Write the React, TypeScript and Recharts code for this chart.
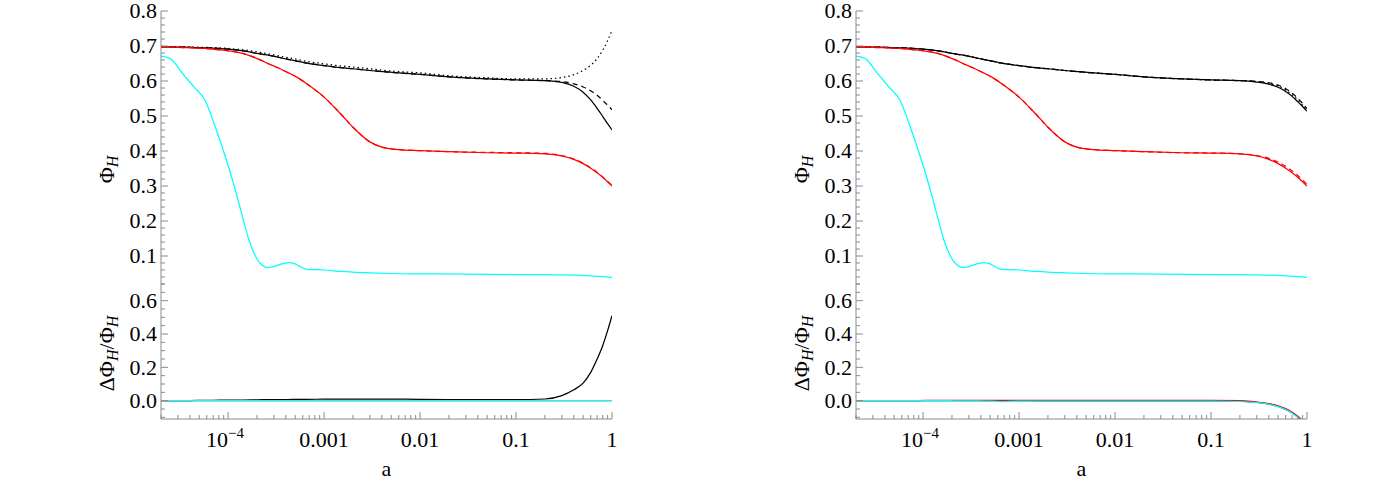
import React from 'react';
import { LineChart, Line, XAxis, YAxis } from 'recharts';

// ---------------- data ----------------
const aGrid = [2e-5, 2.5e-5, 3e-5, 4e-5, 5.75e-5, 7e-5, 9e-5, 1.2e-4, 1.45e-4, 1.9e-4, 2.3e-4, 2.6e-4, 3.3e-4, 4.2e-4, 5.2e-4, 6.6e-4, 1e-3, 1.5e-3, 2e-3, 3e-3, 4e-3, 6e-3, 0.01, 0.02, 0.05, 0.1, 0.2, 0.3, 0.4, 0.5, 0.6, 0.7, 0.8, 0.9, 1];

// left panel, top
const leftBlackSolid = [0.698, 0.697, 0.697, 0.696, 0.695, 0.694, 0.692, 0.689, 0.686, 0.680, 0.676, 0.674, 0.668, 0.662, 0.657, 0.651, 0.644, 0.638, 0.635, 0.630, 0.627, 0.623, 0.619, 0.612, 0.606, 0.603, 0.601, 0.596, 0.585, 0.568, 0.546, 0.522, 0.499, 0.478, 0.460];
const leftBlackDashed = [0.698, 0.697, 0.697, 0.696, 0.695, 0.694, 0.692, 0.689, 0.686, 0.680, 0.676, 0.674, 0.668, 0.662, 0.657, 0.651, 0.644, 0.638, 0.635, 0.630, 0.627, 0.623, 0.619, 0.612, 0.606, 0.603, 0.601, 0.598, 0.592, 0.583, 0.572, 0.559, 0.545, 0.531, 0.518];
const leftBlackDotted = [0.699, 0.698, 0.698, 0.697, 0.696, 0.695, 0.694, 0.691, 0.689, 0.684, 0.680, 0.678, 0.672, 0.667, 0.662, 0.656, 0.649, 0.643, 0.640, 0.635, 0.631, 0.627, 0.623, 0.615, 0.609, 0.606, 0.606, 0.610, 0.618, 0.630, 0.645, 0.664, 0.688, 0.715, 0.745];
const leftRedSolid = [0.697, 0.697, 0.696, 0.695, 0.693, 0.691, 0.688, 0.683, 0.678, 0.667, 0.657, 0.650, 0.638, 0.624, 0.611, 0.592, 0.554, 0.505, 0.468, 0.426, 0.411, 0.404, 0.401, 0.398, 0.395, 0.394, 0.392, 0.386, 0.376, 0.364, 0.351, 0.338, 0.325, 0.312, 0.300];
const leftRedDashed = [0.697, 0.697, 0.696, 0.695, 0.693, 0.691, 0.688, 0.683, 0.678, 0.667, 0.657, 0.650, 0.638, 0.624, 0.611, 0.592, 0.554, 0.505, 0.468, 0.426, 0.411, 0.404, 0.401, 0.398, 0.396, 0.395, 0.393, 0.387, 0.377, 0.365, 0.352, 0.339, 0.326, 0.313, 0.302];

// cyan curve (same in both panels) on its own finer grid
const cyanGrid = [2e-5, 2.5e-5, 3.3e-5, 4.4e-5, 5.75e-5, 7e-5, 8e-5, 9e-5, 1.05e-4, 1.2e-4, 1.45e-4, 1.65e-4, 1.9e-4, 2.1e-4, 2.35e-4, 2.6e-4, 2.9e-4, 3.3e-4, 3.8e-4, 4.3e-4, 4.9e-4, 5.5e-4, 6.2e-4, 7e-4, 8e-4, 1e-3, 1.5e-3, 2e-3, 3e-3, 5e-3, 0.01, 0.03, 0.1, 0.3, 0.6, 1];
const leftCyan = [0.671, 0.664, 0.624, 0.583, 0.545, 0.485, 0.440, 0.398, 0.340, 0.285, 0.200, 0.145, 0.103, 0.083, 0.071, 0.067, 0.069, 0.074, 0.079, 0.081, 0.078, 0.071, 0.064, 0.061, 0.061, 0.060, 0.056, 0.054, 0.052, 0.050, 0.049, 0.048, 0.047, 0.046, 0.043, 0.039];
const rightCyan = [0.671, 0.664, 0.624, 0.583, 0.545, 0.485, 0.440, 0.398, 0.340, 0.285, 0.200, 0.145, 0.103, 0.083, 0.071, 0.067, 0.069, 0.074, 0.079, 0.081, 0.078, 0.071, 0.064, 0.061, 0.061, 0.060, 0.056, 0.054, 0.052, 0.050, 0.049, 0.048, 0.047, 0.046, 0.043, 0.039];

// left panel, bottom (relative difference)
const leftDeltaBlack = [0, 0, 0.001, 0.001, 0.002, 0.002, 0.003, 0.004, 0.004, 0.005, 0.006, 0.006, 0.007, 0.007, 0.008, 0.008, 0.009, 0.009, 0.009, 0.009, 0.009, 0.009, 0.008, 0.007, 0.006, 0.006, 0.010, 0.030, 0.065, 0.105, 0.170, 0.250, 0.330, 0.420, 0.510];
const leftDeltaRed = [0, 0, 0, 0.001, 0.001, 0.001, 0.001, 0.001, 0.001, 0.001, 0.001, 0.001, 0.001, 0.001, 0.001, 0.001, 0.001, 0.001, 0.001, 0.001, 0.001, 0.001, 0.001, 0.001, 0.001, 0.001, 0.001, 0.001, 0.001, 0.001, 0.001, 0.001, 0.001, 0.001, 0.001];
const leftDeltaCyan = [0, 0, 0, 0, 0, 0, 0, 0, 0, 0, 0, 0, 0, 0, 0, 0, 0, 0, 0, 0, 0, 0, 0, 0, 0, 0, 0, 0, 0, 0, 0, 0, 0, 0, 0];

// right panel, top
const rightBlackSolid = [0.698, 0.697, 0.697, 0.696, 0.695, 0.694, 0.692, 0.689, 0.686, 0.680, 0.676, 0.674, 0.668, 0.662, 0.657, 0.651, 0.644, 0.638, 0.635, 0.630, 0.627, 0.623, 0.619, 0.612, 0.606, 0.603, 0.601, 0.597, 0.591, 0.582, 0.570, 0.556, 0.541, 0.527, 0.514];
const rightBlackDashed = [0.698, 0.697, 0.697, 0.696, 0.695, 0.694, 0.692, 0.689, 0.686, 0.680, 0.676, 0.674, 0.668, 0.662, 0.657, 0.651, 0.644, 0.638, 0.635, 0.630, 0.627, 0.623, 0.619, 0.612, 0.606, 0.603, 0.601, 0.599, 0.595, 0.588, 0.578, 0.565, 0.551, 0.536, 0.521];
const rightBlackDotted = [0.698, 0.697, 0.697, 0.696, 0.695, 0.694, 0.692, 0.689, 0.686, 0.680, 0.676, 0.674, 0.668, 0.662, 0.657, 0.651, 0.644, 0.638, 0.635, 0.630, 0.627, 0.623, 0.619, 0.612, 0.606, 0.603, 0.601, 0.598, 0.593, 0.585, 0.574, 0.561, 0.546, 0.531, 0.517];
const rightRedSolid = [0.697, 0.697, 0.696, 0.695, 0.693, 0.691, 0.688, 0.683, 0.678, 0.667, 0.657, 0.650, 0.638, 0.624, 0.611, 0.592, 0.554, 0.505, 0.468, 0.426, 0.411, 0.404, 0.401, 0.398, 0.395, 0.394, 0.392, 0.386, 0.376, 0.364, 0.351, 0.338, 0.325, 0.312, 0.300];
const rightRedDashed = [0.697, 0.697, 0.696, 0.695, 0.693, 0.691, 0.688, 0.683, 0.678, 0.667, 0.657, 0.650, 0.638, 0.624, 0.611, 0.592, 0.554, 0.505, 0.468, 0.426, 0.411, 0.404, 0.401, 0.398, 0.395, 0.394, 0.392, 0.387, 0.379, 0.368, 0.356, 0.343, 0.330, 0.317, 0.305];

// right panel, bottom (relative difference)
const rightDeltaBlack = [0, 0, 0, 0, 0, 0, 0, 0, 0, 0, 0, 0, 0, 0, 0, 0, 0, -0.001, -0.001, -0.001, -0.001, -0.001, -0.001, -0.001, -0.001, -0.001, -0.003, -0.010, -0.020, -0.034, -0.052, -0.073, -0.098, -0.125, -0.150];
const rightDeltaRed = [0, 0, 0, 0, 0.001, 0.001, 0.001, 0.002, 0.002, 0.002, 0.002, 0.002, 0.002, 0.002, 0.002, 0.002, 0.002, 0.002, 0.002, 0.002, 0.002, 0.002, 0.002, 0.002, 0.002, 0.002, 0.000, -0.008, -0.018, -0.031, -0.048, -0.069, -0.094, -0.120, -0.145];
const rightDeltaCyan = [0, 0, 0, 0, 0, 0, 0, 0, 0, 0, -0.001, -0.001, -0.001, -0.002, -0.003, -0.005, -0.003, -0.003, -0.003, -0.003, -0.003, -0.003, -0.003, -0.003, -0.003, -0.003, -0.005, -0.012, -0.022, -0.036, -0.054, -0.075, -0.100, -0.127, -0.152];

// ticks
const xMajorTicks = [1e-4, 1e-3, 1e-2, 1e-1, 1];
const xMajorLabels = ['10^-4', '0.001', '0.01', '0.1', '1'];
const xMinorMantissas = [2, 3, 4, 5, 6, 7, 8, 9];
const xMinorDecades = [1e-5, 1e-4, 1e-3, 1e-2, 1e-1];
const xDomain = [2e-5, 1];

const yTopMajor = [0.1, 0.2, 0.3, 0.4, 0.5, 0.6, 0.7, 0.8];
const yTopLabels = ['0.1', '0.2', '0.3', '0.4', '0.5', '0.6', '0.7', '0.8'];
const yTopMinorStep = 0.02;
const yTopDomain = [0.02, 0.8];

const yBotMajor = [0, 0.2, 0.4, 0.6];
const yBotLabels = ['0.0', '0.2', '0.4', '0.6'];
const yBotMinorStep = 0.05;
const yBotDomain = [-0.11, 0.7];

// ---------------- helpers ----------------
const FONT = '"Liberation Serif", "Times New Roman", Times, serif';
const FRAME = '#8a8a8a';
const FS = 22;

const xAllTicks: number[] = (() => {
  const t: number[] = [];
  xMinorDecades.forEach((d) => xMinorMantissas.forEach((m) => t.push(m * d)));
  xMajorTicks.forEach((m) => t.push(m));
  return t
    .filter((v) => v >= xDomain[0] * (1 - 1e-9) && v <= xDomain[1] * (1 + 1e-9))
    .sort((a, b) => a - b);
})();

const stepTicks = (lo: number, hi: number, step: number) => {
  const out: number[] = [];
  const n0 = Math.ceil(lo / step - 1e-9);
  const n1 = Math.floor(hi / step + 1e-9);
  for (let n = n0; n <= n1; n++) out.push(Math.round(n * step * 1000) / 1000);
  return out;
};
const yTopTicks = stepTicks(yTopDomain[0], yTopDomain[1], yTopMinorStep);
const yBotTicks = stepTicks(yBotDomain[0], yBotDomain[1], yBotMinorStep);

const buildRows = (grid: number[], series: Record<string, number[]>) =>
  grid.map((a, i) => {
    const r: Record<string, number> = { a };
    Object.keys(series).forEach((k) => {
      r[k] = series[k][i];
    });
    return r;
  });

const renderXLabel = (label: string, x: number, y: number) => {
  if (label.startsWith('10^')) {
    const exp = label.slice(3).replace('-', '\u2212');
    return (
      <text x={x - 3} y={y} textAnchor="middle" fontFamily={FONT} fontSize={FS} fill="#000">
        <tspan>10</tspan>
        <tspan dy={-9} fontSize={15}>{exp}</tspan>
      </text>
    );
  }
  return (
    <text x={x} y={y} textAnchor="middle" fontFamily={FONT} fontSize={FS} fill="#000">
      {label}
    </text>
  );
};

const makeXTick = (side: 'top' | 'bottom', withLabels: boolean) => (props: any) => {
  const { x, y, payload } = props;
  const v = payload.value;
  const idx = xMajorTicks.findIndex((m) => Math.abs(m - v) <= m * 1e-6);
  const len = idx >= 0 ? 7 : 4;
  const d = side === 'bottom' ? -1 : 1;
  return (
    <g>
      <line x1={x} x2={x} y1={y} y2={y + d * len} stroke={FRAME} strokeWidth={1} />
      {withLabels && idx >= 0 ? renderXLabel(xMajorLabels[idx], x, y + 28) : null}
    </g>
  );
};

const makeYTick = (side: 'left' | 'right', majors: number[], labels: string[] | null) => (props: any) => {
  const { x, y, payload } = props;
  const v = payload.value;
  const idx = majors.findIndex((m) => Math.abs(m - v) < 1e-6);
  const len = idx >= 0 ? 7 : 4;
  const d = side === 'left' ? 1 : -1;
  return (
    <g>
      <line x1={x} x2={x + d * len} y1={y} y2={y} stroke={FRAME} strokeWidth={1} />
      {labels && idx >= 0 ? (
        <text x={x - 4} y={y} dy="0.34em" textAnchor="end" fontFamily={FONT} fontSize={FS} fill="#000">
          {labels[idx]}
        </text>
      ) : null}
    </g>
  );
};

const PhiTitle = (props: any) => {
  const vb = props.viewBox || { x: 0, y: 0, width: 0, height: 0 };
  const cx = vb.x + vb.width - 47;
  const cy = vb.y + vb.height / 2 + 22;
  return (
    <text x={cx} y={cy} transform={`rotate(-90 ${cx} ${cy})`} textAnchor="middle" fontFamily={FONT} fontSize={FS} fill="#000">
      <tspan>Φ</tspan>
      <tspan fontStyle="italic" fontSize={16} dy={4}>H</tspan>
    </text>
  );
};

const DeltaTitle = (props: any) => {
  const vb = props.viewBox || { x: 0, y: 0, width: 0, height: 0 };
  const cx = vb.x + vb.width - 47;
  const cy = vb.y + vb.height / 2 + 2;
  return (
    <text x={cx} y={cy} transform={`rotate(-90 ${cx} ${cy})`} textAnchor="middle" fontFamily={FONT} fontSize={FS} fill="#000">
      <tspan>ΔΦ</tspan>
      <tspan fontStyle="italic" fontSize={16} dy={4}>H</tspan>
      <tspan dy={-4}>/Φ</tspan>
      <tspan fontStyle="italic" fontSize={16} dy={4}>H</tspan>
    </text>
  );
};

const ATitle = (props: any) => {
  const vb = props.viewBox || { x: 0, y: 0, width: 0, height: 0 };
  return (
    <text x={vb.x + vb.width / 2} y={vb.y + 57} textAnchor="middle" fontFamily={FONT} fontSize={FS} fill="#000">
      a
    </text>
  );
};

type LineSpec = { key: string; color: string; dash?: string; own?: boolean };

const SW = 1.25;

const topSpecs: LineSpec[] = [
  { key: 'bs', color: '#000000' },
  { key: 'bd', color: '#000000', dash: '5 4' },
  { key: 'bo', color: '#000000', dash: '1.5 3' },
  { key: 'rd', color: '#ff0000', dash: '5 4' },
  { key: 'rs', color: '#ff0000' },
  { key: 'c', color: '#00ffff', own: true },
];
const botSpecs: LineSpec[] = [
  { key: 'db', color: '#000000' },
  { key: 'dr', color: '#ff0000' },
  { key: 'dc', color: '#00ffff' },
];

const renderLines = (specs: LineSpec[], ownData: any[] | null) =>
  specs.map((s) => (
    <Line
      key={s.key}
      type="monotone"
      dataKey={s.key}
      data={s.own && ownData ? ownData : undefined}
      xAxisId="b"
      yAxisId="l"
      stroke={s.color}
      strokeWidth={SW}
      strokeDasharray={s.dash}
      dot={false}
      activeDot={false}
      isAnimationActive={false}
    />
  ));

const Frame = ({ width, height, margin, data, ownData, specs, yDomain, yTicks, yMajor, yLabels, bottomLabels, bottomHeight, yTitle }: any) => (
  <LineChart width={width} height={height} data={data} margin={margin}>
    <XAxis
      xAxisId="b"
      dataKey="a"
      type="number"
      scale="log"
      domain={xDomain}
      allowDataOverflow
      ticks={xAllTicks}
      interval={0}
      tickSize={0}
      tickMargin={0}
      tickLine={false}
      axisLine={{ stroke: FRAME }}
      height={bottomHeight}
      orientation="bottom"
      tick={makeXTick('bottom', bottomLabels)}
      label={bottomLabels ? { content: ATitle } : undefined}
    />
    <XAxis
      xAxisId="t"
      dataKey="a"
      type="number"
      scale="log"
      domain={xDomain}
      allowDataOverflow
      ticks={xAllTicks}
      interval={0}
      tickSize={0}
      tickMargin={0}
      tickLine={false}
      axisLine={{ stroke: FRAME }}
      height={0}
      orientation="top"
      tick={makeXTick('top', false)}
    />
    <YAxis
      yAxisId="l"
      type="number"
      domain={yDomain}
      allowDataOverflow
      ticks={yTicks}
      interval={0}
      tickSize={0}
      tickMargin={0}
      tickLine={false}
      axisLine={{ stroke: FRAME }}
      width={161}
      orientation="left"
      tick={makeYTick('left', yMajor, yLabels)}
      label={{ content: yTitle }}
    />
    <YAxis
      yAxisId="r"
      type="number"
      domain={yDomain}
      allowDataOverflow
      ticks={yTicks}
      interval={0}
      tickSize={0}
      tickMargin={0}
      tickLine={false}
      axisLine={{ stroke: FRAME }}
      width={0}
      orientation="right"
      tick={makeYTick('right', yMajor, null)}
    />
    {renderLines(specs, ownData)}
  </LineChart>
);

const Panel = ({ left, width, topData, cyanData, botData }: any) => {
  const right = width - 161 - 451;
  return (
    <>
      <div style={{ position: 'absolute', left, top: 0, width, height: 290 }}>
        <Frame
          width={width}
          height={290}
          margin={{ top: 11, right, bottom: 6, left: 0 }}
          data={topData}
          ownData={cyanData}
          specs={topSpecs}
          yDomain={yTopDomain}
          yTicks={yTopTicks}
          yMajor={yTopMajor}
          yLabels={yTopLabels}
          bottomLabels={false}
          bottomHeight={0}
          yTitle={PhiTitle}
        />
      </div>
      <div style={{ position: 'absolute', left, top: 278, width, height: 204 }}>
        <Frame
          width={width}
          height={204}
          margin={{ top: 6, right, bottom: 0, left: 0 }}
          data={botData}
          ownData={null}
          specs={botSpecs}
          yDomain={yBotDomain}
          yTicks={yBotTicks}
          yMajor={yBotMajor}
          yLabels={yBotLabels}
          bottomLabels={true}
          bottomHeight={63}
          yTitle={DeltaTitle}
        />
      </div>
    </>
  );
};

const leftTopRows = buildRows(aGrid, { bs: leftBlackSolid, bd: leftBlackDashed, bo: leftBlackDotted, rs: leftRedSolid, rd: leftRedDashed });
const leftCyanRows = buildRows(cyanGrid, { c: leftCyan });
const leftBotRows = buildRows(aGrid, { db: leftDeltaBlack, dr: leftDeltaRed, dc: leftDeltaCyan });
const rightTopRows = buildRows(aGrid, { bs: rightBlackSolid, bd: rightBlackDashed, bo: rightBlackDotted, rs: rightRedSolid, rd: rightRedDashed });
const rightCyanRows = buildRows(cyanGrid, { c: rightCyan });
const rightBotRows = buildRows(aGrid, { db: rightDeltaBlack, dr: rightDeltaRed, dc: rightDeltaCyan });

export default function App() {
  return (
    <div style={{ position: 'absolute', left: 0, top: 0, width: 1389, height: 482, overflow: 'hidden', background: '#ffffff' }}>
      <Panel left={0} width={695} topData={leftTopRows} cyanData={leftCyanRows} botData={leftBotRows} />
      <Panel left={695} width={694} topData={rightTopRows} cyanData={rightCyanRows} botData={rightBotRows} />
    </div>
  );
}
